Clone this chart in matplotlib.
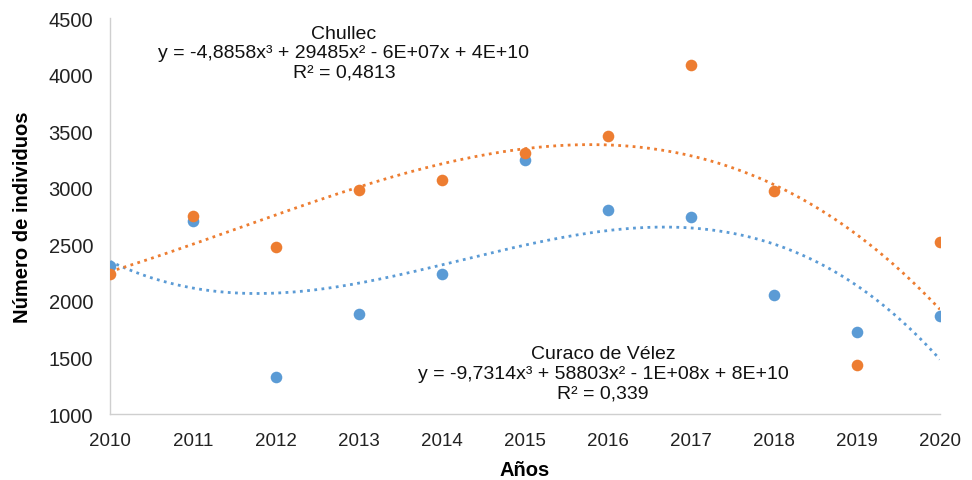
import numpy as np
import matplotlib
matplotlib.use("Agg")
import matplotlib.pyplot as plt

plt.rcParams['font.family'] = ['Liberation Sans', 'DejaVu Sans']

# data
years = [2010, 2011, 2012, 2013, 2014, 2015, 2016, 2017, 2018, 2019, 2020]
curaco = [2310, 2705, 1325, 1885, 2235, 3250, 2805, 2740, 2055, 1725, 1865]
chullec = [2240, 2755, 2480, 2980, 3070, 3305, 3455, 4085, 2970, 1430, 2525]

blue = '#5B9BD5'
orange = '#ED7D31'


def trend(x, y):
    # cubic trendline, x centred to keep polyfit well conditioned
    x = np.asarray(x, dtype=float)
    c = np.polyfit(x - 2015, y, 3)
    xs = np.linspace(x.min(), x.max(), 300)
    return xs, np.polyval(c, xs - 2015)


fig = plt.figure(figsize=(9.72, 4.81), dpi=100)
ax = fig.add_axes([0.113, 0.137, 0.854, 0.823])

xs, ys = trend(years, curaco)
ax.plot(xs, ys, color=blue, lw=2, ls=(0, (1, 1.6)))
xs, ys = trend(years, chullec)
ax.plot(xs, ys, color=orange, lw=2, ls=(0, (1, 1.6)))

ax.scatter(years, curaco, s=70, color=blue, zorder=3, linewidths=0)
ax.scatter(years, chullec, s=70, color=orange, zorder=3, linewidths=0)

ax.set_xlim(2010, 2020)
ax.set_ylim(1000, 4500)
ax.set_xticks(years)
ax.set_yticks(range(1000, 4501, 500))
ax.tick_params(length=0, colors='#222222')
ax.tick_params(axis='y', labelsize=14.5, pad=12)
ax.tick_params(axis='x', labelsize=13.5, pad=13)

for s in ['top', 'right']:
    ax.spines[s].set_visible(False)
for s in ['left', 'bottom']:
    ax.spines[s].set_color('#cfcfcf')
    ax.spines[s].set_linewidth(1)

ax.set_xlabel('Años', fontsize=14.5, fontweight='bold', labelpad=8)
ax.set_ylabel('Número de individuos', fontsize=14.5, fontweight='bold', labelpad=12)

ax.text(2012.82, 4195, 'Chullec\ny = -4,8858x³ + 29485x² - 6E+07x + 4E+10\nR² = 0,4813',
        ha='center', va='center', fontsize=14, linespacing=1.2, color='#111111')
ax.text(2015.94, 1360, 'Curaco de Vélez\ny = -9,7314x³ + 58803x² - 1E+08x + 8E+10\nR² = 0,339',
        ha='center', va='center', fontsize=14, linespacing=1.2, color='#111111')

fig.savefig('out.png', dpi=100)
